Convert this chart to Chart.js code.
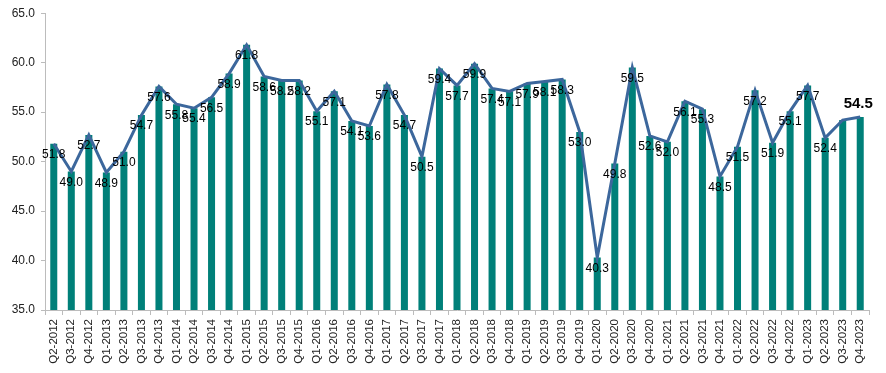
<!DOCTYPE html>
<html>
<head>
<meta charset="utf-8">
<script src="https://cdn.jsdelivr.net/npm/chart.js@4/dist/chart.umd.min.js"></script>
<style>
html,body{margin:0;padding:0;background:#fff;}
#wrap{width:886px;height:373px;position:relative;}
</style>
</head>
<body>
<div id="wrap"><canvas id="c" width="886" height="373"></canvas></div>
<script>
const categories = ["Q2-2012","Q3-2012","Q4-2012",
"Q1-2013","Q2-2013","Q3-2013","Q4-2013",
"Q1-2014","Q2-2014","Q3-2014","Q4-2014",
"Q1-2015","Q2-2015","Q3-2015","Q4-2015",
"Q1-2016","Q2-2016","Q3-2016","Q4-2016",
"Q1-2017","Q2-2017","Q3-2017","Q4-2017",
"Q1-2018","Q2-2018","Q3-2018","Q4-2018",
"Q1-2019","Q2-2019","Q3-2019","Q4-2019",
"Q1-2020","Q2-2020","Q3-2020","Q4-2020",
"Q1-2021","Q2-2021","Q3-2021","Q4-2021",
"Q1-2022","Q2-2022","Q3-2022","Q4-2022",
"Q1-2023","Q2-2023","Q3-2023","Q4-2023"];
const values = [51.8,49.0,52.7,
48.9,51.0,54.7,57.6,
55.8,55.4,56.5,58.9,
61.8,58.6,58.2,58.2,
55.1,57.1,54.1,53.6,
57.8,54.7,50.5,59.4,
57.7,59.9,57.4,57.1,
57.9,58.1,58.3,53.0,
40.3,49.8,59.5,52.6,
52.0,56.1,55.3,48.5,
51.5,57.2,51.9,55.1,
57.7,52.4,54.2,54.5];
// indices without a data label in the reference
const unlabeled = [45];
const yTicks = [35,40,45,50,55,60,65];

const labelPlugin = {
  id: 'valueLabels',
  afterDatasetsDraw(chart) {
    const ctx = chart.ctx;
    const meta = chart.getDatasetMeta(0);
    const yScale = chart.scales.y;
    ctx.save();
    ctx.textAlign = 'center';
    ctx.textBaseline = 'middle';
    const last = values.length - 1;
    values.forEach((v, i) => {
      if (unlabeled.includes(i)) return;
      const x = meta.data[i].x;
      const y = yScale.getPixelForValue(v);
      if (i === last) {
        ctx.font = 'bold 15px "Liberation Sans", Arial, sans-serif';
        ctx.fillStyle = '#000';
        ctx.fillText(v.toFixed(1), x - 2, y - 13);
      } else {
        ctx.font = '12px "Liberation Sans", Arial, sans-serif';
        ctx.fillStyle = '#000';
        ctx.fillText(v.toFixed(1), x, y + 11);
      }
    });
    ctx.restore();
  }
};

new Chart(document.getElementById('c'), {
  data: {
    labels: categories,
    datasets: [
      {
        type: 'bar',
        data: values,
        backgroundColor: '#008079',
        barPercentage: 0.8,
        categoryPercentage: 0.5,
        order: 2
      },
      {
        type: 'line',
        data: values,
        borderColor: '#3c679c',
        borderWidth: 3,
        pointRadius: 0,
        tension: 0,
        fill: false,
        order: 1
      }
    ]
  },
  options: {
    responsive: false,
    animation: false,
    events: [],
    layout: { padding: { left: 0, top: 9, right: 17, bottom: 0 } },
    plugins: { legend: { display: false }, tooltip: { enabled: false } },
    scales: {
      x: {
        offset: true,
        grid: { offset: true, drawOnChartArea: false, drawTicks: true, tickLength: 5, color: '#bcbcbc' },
        border: { display: true, color: '#bcbcbc' },
        ticks: {
          minRotation: 90, maxRotation: 90, autoSkip: false,
          font: { family: '"Liberation Sans", Arial, sans-serif', size: 11.5 },
          color: '#222', padding: 4
        },
        afterFit(s) { s.height = 63; }
      },
      y: {
        min: 35, max: 65,
        afterBuildTicks(s) { s.ticks = yTicks.map(v => ({ value: v })); },
        grid: { drawOnChartArea: false, drawTicks: true, tickLength: 4, color: '#bcbcbc' },
        border: { display: true, color: '#bcbcbc' },
        ticks: {
          callback: v => Number(v).toFixed(1),
          font: { family: '"Liberation Sans", Arial, sans-serif', size: 12 },
          color: '#222', padding: 6
        },
        afterFit(s) { s.width = 45; }
      }
    }
  },
  plugins: [labelPlugin]
});
</script>
</body>
</html>
